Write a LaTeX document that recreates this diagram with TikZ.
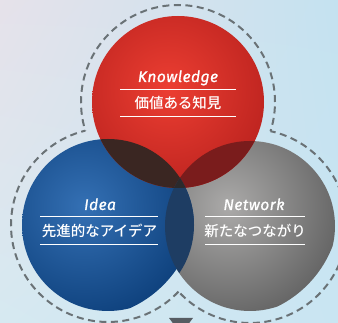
\documentclass[tikz,border=0pt]{standalone}
\usepackage{fontspec}
\usetikzlibrary{shadings}
\newfontfamily\jpfont{Noto Sans CJK JP}[UprightFont=* Medium]
\newfontfamily\latfont{Fira Sans}[ItalicFeatures={FakeBold=0.9,LetterSpace=3}]
\definecolor{bgA}{HTML}{E6E2EA}
\definecolor{bgB}{HTML}{C4E2F0}
\definecolor{bgC}{HTML}{D6E9F1}
\definecolor{bgD}{HTML}{C9E5F2}
\definecolor{redIn}{HTML}{EC3E32}
\definecolor{redOut}{HTML}{BC231F}
\definecolor{bluIn}{HTML}{3470B4}
\definecolor{bluOut}{HTML}{0F427E}
\definecolor{gryIn}{HTML}{ABAAA9}
\definecolor{gryOut}{HTML}{666666}
\definecolor{ovRB}{HTML}{3A2622}
\definecolor{ovRG}{HTML}{7A1C1C}
\definecolor{ovBG}{HTML}{1E3D63}
\definecolor{ovAll}{HTML}{2B2A2C}
\definecolor{dashC}{HTML}{6A7276}
\definecolor{triC}{HTML}{565C62}
\tikzset{
  dashring/.style={draw=dashC, line width=2pt, dash pattern=on 7pt off 4.5pt},
  entitle/.style={text=white, font=\latfont\itshape\fontsize{15.5}{17}\selectfont, inner sep=0pt, anchor=base},
  jptitle/.style={text=white, font=\jpfont\fontsize{14.5}{16}\selectfont, inner sep=0pt, anchor=base},
  rule/.style={draw=white, line width=1pt}
}
\begin{document}
\begin{tikzpicture}[x=1pt,y=-1pt]
\useasboundingbox (0,0) rectangle (338,323);
\shade[upper left=bgA, upper right=bgB, lower left=bgC, lower right=bgD] (0,0) rectangle (338,323);
\coordinate (R) at (178,102);
\coordinate (B) at (108,225);
\coordinate (G) at (250,226);
\coordinate (Rl) at (168,88);
\coordinate (Bl) at (84,206);
\coordinate (Gl) at (228,206);
% dashed union outline
\begin{scope}[even odd rule]
  \clip (-20,-20) rectangle (360,350) (B) circle (97pt);
  \clip (-20,-20) rectangle (360,350) (G) circle (97pt);
  \draw[dashring] (R) circle (97pt);
\end{scope}
\begin{scope}[even odd rule]
  \clip (-20,-20) rectangle (360,350) (R) circle (97pt);
  \clip (-20,-20) rectangle (360,350) (G) circle (97pt);
  \draw[dashring] (B) circle (97pt);
\end{scope}
\begin{scope}[even odd rule]
  \clip (-20,-20) rectangle (360,350) (R) circle (97pt);
  \clip (-20,-20) rectangle (360,350) (B) circle (97pt);
  \draw[dashring] (G) circle (97pt);
\end{scope}
% bottom triangle
\coordinate (t1) at (169,318);
\coordinate (t2) at (193,318);
\coordinate (t3) at (181,334);
\fill[triC] (t1) -- (t2) -- (t3) -- cycle;
% circles
\begin{scope}
  \clip (G) circle (85pt);
  \shade[inner color=gryIn, outer color=gryOut] (Gl) circle (112pt);
\end{scope}
\begin{scope}
  \clip (B) circle (86pt);
  \shade[inner color=bluIn, outer color=bluOut] (Bl) circle (112pt);
\end{scope}
\begin{scope}
  \clip (R) circle (86pt);
  \shade[inner color=redIn, outer color=redOut] (Rl) circle (108pt);
\end{scope}
% overlaps
\begin{scope}
  \clip (R) circle (86pt);
  \fill[ovRB] (B) circle (86pt);
  \fill[ovRG] (G) circle (85pt);
\end{scope}
\begin{scope}
  \clip (B) circle (86pt);
  \fill[ovBG] (G) circle (85pt);
\end{scope}
\begin{scope}
  \clip (R) circle (86pt);
  \clip (B) circle (86pt);
  \fill[ovAll] (G) circle (85pt);
\end{scope}
% Knowledge
\node[entitle] (kt) at (178,82) {Knowledge};
\coordinate (k1a) at (120,89.5); \coordinate (k1b) at (236,89.5);
\draw[rule] (k1a) -- (k1b);
\node[jptitle] (kj) at (178,109) {価値ある知見};
\coordinate (k2a) at (120,117); \coordinate (k2b) at (236,117);
\draw[rule] (k2a) -- (k2b);
% Idea
\node[entitle] (it) at (100,210) {Idea};
\coordinate (i1a) at (40,217); \coordinate (i1b) at (158,217);
\draw[rule] (i1a) -- (i1b);
\node[jptitle] (ij) at (99.5,237) {先進的なアイデア};
\coordinate (i2a) at (40,245); \coordinate (i2b) at (158,245);
\draw[rule] (i2a) -- (i2b);
% Network
\node[entitle] (nt) at (254,210) {Network};
\coordinate (n1a) at (205,217); \coordinate (n1b) at (305,217);
\draw[rule] (n1a) -- (n1b);
\node[jptitle] (nj) at (255,237) {新たなつながり};
\coordinate (n2a) at (205,245); \coordinate (n2b) at (305,245);
\draw[rule] (n2a) -- (n2b);
\end{tikzpicture}
\end{document}
